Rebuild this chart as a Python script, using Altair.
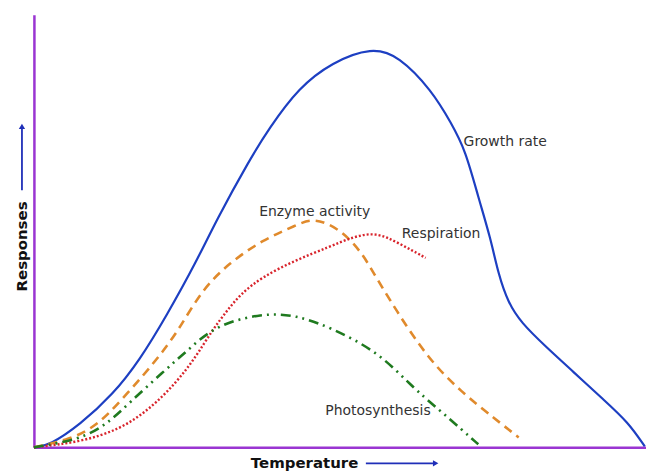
import altair as alt
import pandas as pd

# Temperature (0-100 arbitrary units) and response (0-100 arbitrary units)
growth_t = [0, 2.6, 7.5, 12.9, 17.3, 21.7, 26.5, 29.8, 35.2, 38.4, 43.3, 48.7, 55.2, 59.6, 65.0,
            68.2, 70.5, 72.6, 74.6, 75.9, 77.5, 79.6, 83.6, 88.1, 93.0, 97.1, 99.8]
growth_r = [0, 0.5, 5.2, 12.2, 20.2, 30.5, 42.8, 52.5, 66.4, 73.7, 83.2, 89.0, 92.5, 90.5, 82.5,
            74.9, 68.7, 57.8, 48.4, 39.9, 33.4, 28.8, 23.3, 17.5, 11.1, 5.8, 0.2]

enzyme_t = [0, 5.9, 10.3, 14.0, 17.8, 21.0, 23.8, 27.5, 31.9, 37.3, 42.8, 45.8, 50.3, 53.6, 55.2,
            59.1, 64.5, 69.9, 75.4, 79.2]
enzyme_r = [0, 1.8, 5.0, 10.5, 16.5, 22.0, 27.5, 36.5, 42.6, 47.9, 51.3, 53.2, 50.2, 44.9, 41.0,
            31.8, 20.3, 12.7, 6.5, 2.3]

resp_t = [0, 7.5, 14.0, 18.9, 23.3, 26.5, 29.2, 31.5, 33.8, 37.3, 42.8, 48.2, 52.0, 55.9, 59.6, 64.0]
resp_r = [0, 1.2, 4.1, 8.8, 15.0, 21.0, 27.2, 31.5, 35.5, 39.4, 43.3, 46.3, 48.6, 49.8, 47.2, 43.8]

photo_t = [0, 7.5, 11.9, 15.6, 21.0, 25.4, 29.8, 37.3, 42.8, 48.7, 56.4, 61.7, 66.1, 69.9, 72.6]
photo_r = [0, 1.8, 5.3, 10.3, 17.3, 22.8, 28.3, 31.0, 30.6, 27.6, 21.9, 14.1, 8.8, 4.1, 0.7]

label_text = ["Growth rate", "Enzyme activity", "Respiration", "Photosynthesis"]
label_t = [70.2, 36.8, 60.1, 47.6]
label_r = [70.5, 54.4, 49.3, 8.3]

PURPLE = "#9a35d2"
ARROW = "#1f2fb8"
FONT = "DejaVu Sans"

xscale = alt.Scale(domain=[0, 100], nice=False, zero=False)
yscale = alt.Scale(domain=[0, 100], nice=False, zero=False)

xaxis = alt.Axis(title="Temperature", labels=False, ticks=False, grid=False,
                 domainColor=PURPLE, domainWidth=2.5,
                 titleFont=FONT, titleFontSize=15, titleFontWeight="bold", titleColor="#111",
                 titleX=271, titleY=15, titleAlign="center", titleBaseline="middle")
yaxis = alt.Axis(title="Responses", labels=False, ticks=False, grid=False,
                 domainColor=PURPLE, domainWidth=2.5,
                 titleFont=FONT, titleFontSize=15, titleFontWeight="bold", titleColor="#111",
                 titleX=-12, titleY=232, titleAngle=270, titleAlign="center", titleBaseline="middle")


def line(ts, rs, color, width, dash=None):
    kw = dict(color=color, strokeWidth=width, interpolate="basis")
    if dash is not None:
        kw["strokeDash"] = dash
    return alt.Chart(pd.DataFrame({"t": ts, "r": rs})).mark_line(**kw).encode(
        x=alt.X("t:Q", scale=xscale, axis=xaxis),
        y=alt.Y("r:Q", scale=yscale, axis=yaxis),
    )


growth = line(growth_t, growth_r, "#1d3fc2", 2.2)
enzyme = line(enzyme_t, enzyme_r, "#e08a2c", 2.6, [9, 6])
resp = line(resp_t, resp_r, "#d8242c", 2.4, [2, 2])
photo = line(photo_t, photo_r, "#1f7a1f", 2.6, [10, 5, 2, 5, 2, 5])

labels = alt.Chart(pd.DataFrame({"t": label_t, "r": label_r, "txt": label_text})).mark_text(
    align="left", baseline="middle", font=FONT, fontSize=14, color="#333"
).encode(
    x=alt.X("t:Q", scale=xscale, axis=xaxis),
    y=alt.Y("r:Q", scale=yscale, axis=yaxis),
    text="txt:N",
)

one = alt.Data(values=[{"a": 1}])
y_arrow = alt.Chart(one).mark_rule(color=ARROW, strokeWidth=1.8).encode(
    x=alt.value(-12), y=alt.value(114), y2=alt.value(176))
y_head = alt.Chart(one).mark_point(shape="triangle-up", filled=True, color=ARROW, size=40, opacity=1).encode(
    x=alt.value(-12), y=alt.value(112))
x_arrow = alt.Chart(one).mark_rule(color=ARROW, strokeWidth=1.8).encode(
    x=alt.value(333), x2=alt.value(401), y=alt.value(450))
x_head = alt.Chart(one).mark_point(shape="triangle-right", filled=True, color=ARROW, size=40, opacity=1).encode(
    x=alt.value(403), y=alt.value(450))

chart = alt.layer(growth, enzyme, resp, photo, labels, y_arrow, y_head, x_arrow, x_head).properties(
    width=614, height=434,
    autosize=alt.AutoSizeParams(type="none"),
    padding={"left": 26, "top": 6, "right": 0, "bottom": 25},
    background="white",
).configure_view(stroke=None)

chart.save("out.html", embed_options={"renderer": "svg", "actions": False})
